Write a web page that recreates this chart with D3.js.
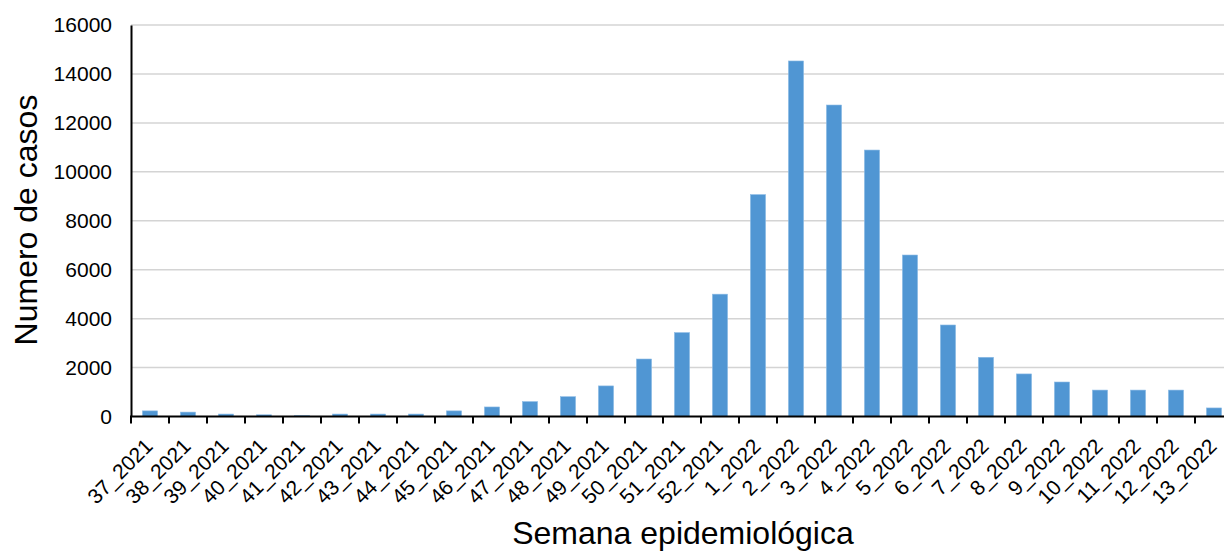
<!DOCTYPE html>
<html>
<head>
<meta charset="utf-8">
<script src="https://cdn.jsdelivr.net/npm/d3@7"></script>
<style>
  html, body { margin: 0; padding: 0; background: #fff; }
  svg { display: block; font-family: "Liberation Sans", Arial, sans-serif; }
</style>
</head>
<body>
<svg id="chart" width="1224" height="552"></svg>
<script>
const categories = ["37_2021","38_2021","39_2021","40_2021","41_2021","42_2021","43_2021","44_2021","45_2021","46_2021","47_2021","48_2021","49_2021","50_2021","51_2021","52_2021","1_2022","2_2022","3_2022","4_2022","5_2022","6_2022","7_2022","8_2022","9_2022","10_2022","11_2022","12_2022","13_2022"];
const casos = [230,180,100,70,40,100,100,100,230,390,610,810,1250,2350,3430,5000,9070,14530,12730,10890,6600,3740,2420,1740,1410,1080,1080,1080,350];
const yTicks = [0,2000,4000,6000,8000,10000,12000,14000,16000];
const yTitle = "Numero de casos";
const xTitle = "Semana epidemiológica";

const svg = d3.select("#chart");
const mLeft = 131, mRight = 1233, mTop = 25, mBottom = 416.5;

const x = d3.scaleBand().domain(categories).range([mLeft, mRight]).paddingInner(0.6).paddingOuter(0.3);
const y = d3.scaleLinear().domain([0, 16000]).range([mBottom, mTop]);

// gridlines
svg.append("g").selectAll("line").data(yTicks.filter(d => d > 0)).join("line")
  .attr("x1", mLeft).attr("x2", 1224)
  .attr("y1", d => y(d)).attr("y2", d => y(d))
  .attr("stroke", "#d4d4d4").attr("stroke-width", 1.5);

// bars
svg.append("g").selectAll("rect").data(casos).join("rect")
  .attr("x", (d, i) => x(categories[i]))
  .attr("width", x.bandwidth())
  .attr("y", d => y(d))
  .attr("height", d => mBottom - y(d))
  .attr("fill", "#5096d3")
  .attr("stroke", "#8fbde6").attr("stroke-width", 0.6);

// y axis
const yAxis = d3.axisLeft(y).tickValues(yTicks).tickSize(0).tickPadding(19).tickFormat(d3.format("d"));
const gy = svg.append("g").attr("transform", `translate(${mLeft},0)`).call(yAxis);
gy.select(".domain").attr("stroke", "#000").attr("stroke-width", 2);
gy.selectAll("text").attr("font-size", 21).attr("fill", "#000").attr("font-family", "Liberation Sans, Arial, sans-serif");

// x axis
const step = x.step();
const boundaries = d3.range(categories.length + 1).map(i => mLeft + i * step);
svg.append("line").attr("x1", mLeft - 1).attr("x2", 1224).attr("y1", mBottom).attr("y2", mBottom)
  .attr("stroke", "#000").attr("stroke-width", 2);
svg.append("g").selectAll("line").data(boundaries).join("line")
  .attr("x1", d => d).attr("x2", d => d)
  .attr("y1", mBottom).attr("y2", mBottom + 7)
  .attr("stroke", "#000").attr("stroke-width", 2);

svg.append("g").selectAll("text").data(categories).join("text")
  .attr("transform", d => `translate(${x(d) + x.bandwidth() / 2 + 4},${mBottom + 31}) rotate(-45)`)
  .attr("text-anchor", "end")
  .attr("font-size", 21)
  .attr("fill", "#000")
  .text(d => d);

// titles
svg.append("text")
  .attr("transform", "translate(37,220) rotate(-90)")
  .attr("text-anchor", "middle")
  .attr("font-size", 32).attr("fill", "#000")
  .text(yTitle);

svg.append("text")
  .attr("x", 683).attr("y", 544)
  .attr("text-anchor", "middle")
  .attr("font-size", 32).attr("fill", "#000")
  .text(xTitle);
</script>
</body>
</html>
